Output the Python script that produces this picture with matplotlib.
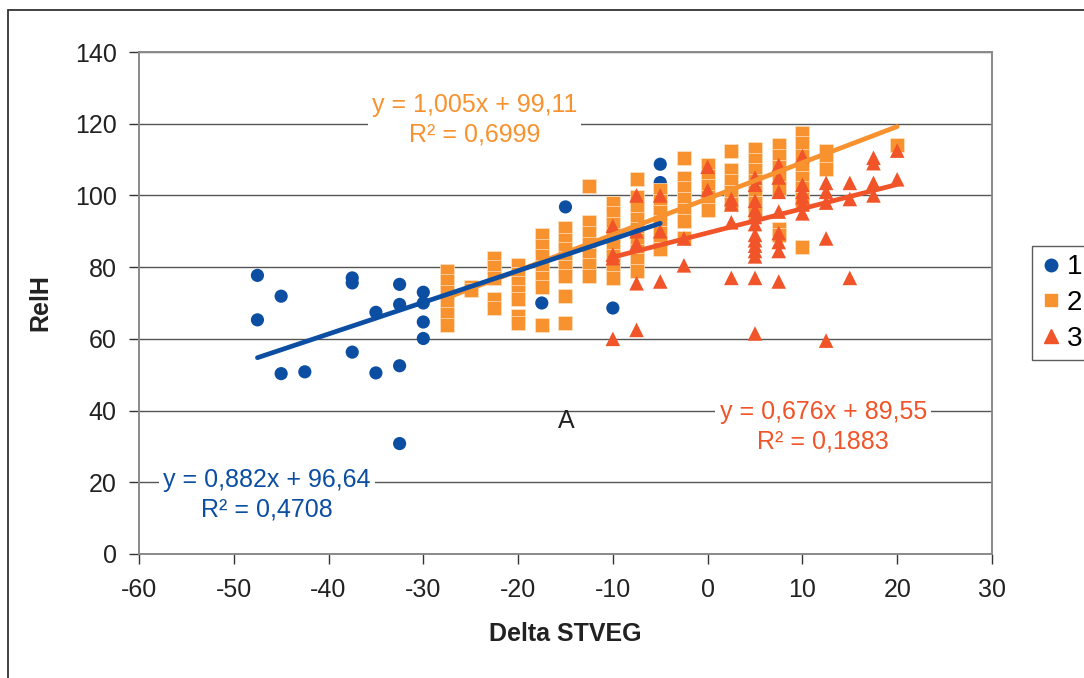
import matplotlib
matplotlib.use('Agg')
import matplotlib.pyplot as plt
from matplotlib.patches import Rectangle
from matplotlib.lines import Line2D
import numpy as np

plt.rcParams['font.family'] = ['Liberation Sans', 'DejaVu Sans']
plt.rcParams['axes.unicode_minus'] = False

BLUE = '#0b4ea2'
ORANGE = '#f7922e'
RED = '#f05428'

# series 1 (circles)
blue_x = [-47.5, -47.5, -45, -45, -42.5, -37.5, -37.5, -37.5, -35, -35,
          -32.5, -32.5, -32.5, -32.5, -30, -30, -30, -30,
          -20, -17.5, -15, -10, -5, -5]
blue_y = [77.7, 65.3, 71.9, 50.3, 50.8, 77.0, 75.6, 56.3, 67.4, 50.5,
          75.2, 69.6, 52.5, 30.8, 73.0, 70.0, 64.7, 60.1,
          77.5, 70.0, 96.8, 68.6, 108.7, 103.6]

# series 2 (squares), one list of RelH per Delta STVEG column
orange_cols = [-27.5, -25, -22.5, -20, -17.5, -15, -12.5, -10, -7.5,
               -5, -2.5, 0, 2.5, 5, 7.5, 10, 12.5, 20]
orange_vals = [
    [79, 76, 73, 70, 67, 64],
    [74.5, 73.5],
    [82.5, 80, 77, 71, 68.5],
    [80.5, 78, 75.5, 73, 71, 66.5, 64.5],
    [89, 86, 83, 80, 77, 74.5, 64],
    [91, 87.5, 85, 82.5, 80, 77.5, 72, 64.5],
    [102.5, 92.5, 89.5, 86.5, 83.5, 80.5, 77.5],
    [98, 95, 92, 89, 86, 83, 80.5, 77],
    [104.5, 99.5, 96.5, 93.5, 90.5, 87.5, 84.5, 82, 79],
    [101.5, 98.5, 95.5, 92.5, 89.5, 87, 85],
    [110.5, 105, 102, 99, 96, 93, 88],
    [108.5, 105.5, 102.5, 99.5, 96],
    [112.5, 107, 104, 101, 97.5],
    [113, 110, 107, 104, 101, 98, 95],
    [114, 111, 108, 105, 102, 90.5, 89],
    [117.5, 114.5, 111, 108, 105, 102, 99, 97.5, 85.5],
    [112.5, 110, 107.5],
    [114],
]

# series 3 (triangles)
red_cols = [-10, -7.5, -5, -2.5, 0, 2.5, 5, 7.5, 10, 12.5, 15, 17.5, 20]
red_vals = [
    [91.5, 83.5, 82.5, 60],
    [100, 90, 86.5, 75.5, 62.5],
    [100, 90, 76],
    [88, 80.5],
    [108, 101.5],
    [99, 97.5, 92.5, 77],
    [105, 103, 98.5, 96, 94, 92, 89, 87.5, 86, 84.5, 83, 77, 61.5],
    [108.5, 105, 101, 95.5, 89.5, 87, 84.5, 76],
    [111, 103, 101, 99.5, 97.5, 95],
    [103.5, 101, 98, 88, 59.5],
    [103.5, 99, 77],
    [110.5, 109, 103.5, 100],
    [112.5, 104.5],
]

# linear trendlines as printed on the chart (slope, intercept, R2)
blue_fit = (0.882, 96.64, '0,4708')
orange_fit = (1.005, 99.11, '0,6999')
red_fit = (0.676, 89.55, '0,1883')


def flatten(cols, vals):
    xs, ys = [], []
    for c, v in zip(cols, vals):
        xs += [c] * len(v)
        ys += v
    return xs, ys


orange_x, orange_y = flatten(orange_cols, orange_vals)
red_x, red_y = flatten(red_cols, red_vals)

fig = plt.figure(figsize=(10.84, 6.78), dpi=100)
ax = fig.add_axes([0.1282, 0.1829, 0.7869, 0.7404])

# outer chart frame (cut off at right and bottom like the source)
fig.patches.append(Rectangle((8 / 1084, -0.1), 1.2, 1 - 10 / 678 + 0.1,
                             transform=fig.transFigure, fill=False,
                             edgecolor='#333333', lw=1.3))

ax.scatter(blue_x, blue_y, marker='o', s=90, color=BLUE, edgecolor='none',
           zorder=3)
ax.scatter(orange_x, orange_y, marker='s', s=105, color=ORANGE,
           edgecolor='#fde2c4', linewidth=0.5, zorder=3.1)
ax.scatter(red_x, red_y, marker='^', s=110, color=RED, edgecolor='none',
           zorder=3.2)

for xs, fit, col, z in [(orange_x, orange_fit, ORANGE, 4),
                        (red_x, red_fit, RED, 5),
                        (blue_x, blue_fit, BLUE, 6)]:
    lx = np.array([min(xs), max(xs)])
    ax.plot(lx, fit[0] * lx + fit[1], color=col, lw=3.4,
            solid_capstyle='round', zorder=z)


def eq_text(x, y, fit, col):
    s = f"y = {fit[0]:.3f}x + {fit[1]:.2f}".replace('.', ',')
    ax.text(x, y, s + "\nR\u00b2 = " + fit[2], color=col, fontsize=18,
            ha='center', va='center', linespacing=1.3, zorder=2,
            bbox=dict(facecolor='white', edgecolor='none', pad=3))


eq_text(-24.6, 121.0, orange_fit, ORANGE)
eq_text(12.2, 35.4, red_fit, RED)
eq_text(-46.5, 16.6, blue_fit, BLUE)

ax.text(-14.9, 37.1, 'A', fontsize=18, ha='center', va='center',
        color='#222222')

ax.set_xlim(-60, 30)
ax.set_ylim(0, 140)
ax.set_xticks(np.arange(-60, 31, 10))
ax.set_yticks(np.arange(0, 141, 20))
ax.yaxis.grid(True, color='#555555', lw=1)
ax.set_axisbelow(True)
for sp in ax.spines.values():
    sp.set_color('#8a8a8a')
    sp.set_linewidth(1.4)
ax.tick_params(axis='both', direction='out', length=7, width=1,
               color='#333333', labelsize=18, labelcolor='#222222')
ax.tick_params(axis='x', pad=10)
ax.tick_params(axis='y', pad=9)

ax.set_xlabel('Delta STVEG', fontsize=18, fontweight='bold',
              color='#222222', labelpad=15)
ax.set_ylabel('RelH', fontsize=18, fontweight='bold', color='#222222',
              labelpad=16)

handles = [Line2D([], [], ls='none', marker='o', ms=9, color=BLUE),
           Line2D([], [], ls='none', marker='s', ms=9, color=ORANGE),
           Line2D([], [], ls='none', marker='^', ms=10, color=RED)]
leg = fig.legend(handles, ['1', '2', '3'], loc='center left',
                 bbox_to_anchor=(1032 / 1084, 375 / 678), frameon=True,
                 fancybox=False, fontsize=20, handletextpad=0.15,
                 handlelength=0.8, labelspacing=0.35, borderpad=0.3,
                 borderaxespad=0)
leg.get_frame().set_edgecolor('#333333')
leg.get_frame().set_linewidth(1)

fig.savefig('out.png', dpi=100)
